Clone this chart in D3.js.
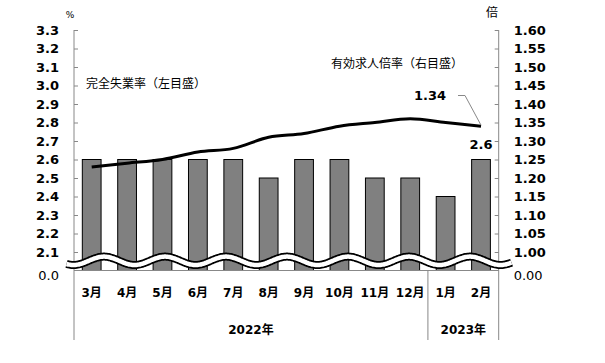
<!DOCTYPE html>
<html>
<head>
<meta charset="utf-8">
<script src="https://cdn.jsdelivr.net/npm/d3@7"></script>
<style>
	body { margin: 0; background: #fff; }
	text { font-family: "DejaVu Sans", "Noto Sans CJK JP", sans-serif; }
</style>
</head>
<body>
<svg id="chart" width="605" height="363"></svg>
<script>
var months = ['3月', '4月', '5月', '6月', '7月', '8月', '9月', '10月', '11月', '12月', '1月', '2月']
var years = [{label: '2022年', from: 0, to: 10}, {label: '2023年', from: 10, to: 12}]
var unemployment = [2.6, 2.6, 2.6, 2.6, 2.6, 2.5, 2.6, 2.6, 2.5, 2.5, 2.4, 2.6]
var jobRatio = [1.23, 1.24, 1.25, 1.27, 1.28, 1.31, 1.32, 1.34, 1.35, 1.36, 1.35, 1.34]
var leftTicks = [2.1, 2.2, 2.3, 2.4, 2.5, 2.6, 2.7, 2.8, 2.9, 3.0, 3.1, 3.2, 3.3]
var rightTicks = [1.00, 1.05, 1.10, 1.15, 1.20, 1.25, 1.30, 1.35, 1.40, 1.45, 1.50, 1.55, 1.60]

var svg = d3.select('#chart')
var x0 = 74, x1 = 498.7, yTop = 30, yBot = 270.5, yFoot = 340
var gray = '#888'

var x = d3.scaleBand().domain(d3.range(months.length)).range([x0, x1])
	.paddingInner(0.47).paddingOuter(0.235)
var yL = d3.scaleLinear().domain([2.0, 3.3]).range([yBot, yTop])
var yR = d3.scaleLinear().domain([0.95, 1.60]).range([yBot, yTop])
var step = x.step()
var cx = function(i) { return x(i) + x.bandwidth() / 2 }

// bars
svg.selectAll('.bar')
	.data(unemployment)
	.enter()
	.append('rect')
	.attr('class', 'bar')
	.attr('x', function(d, i) { return x(i) })
	.attr('y', function(d) { return yL(d) })
	.attr('width', x.bandwidth())
	.attr('height', function(d) { return yBot - yL(d) })
	.attr('fill', '#808080')
	.attr('stroke', '#000')
	.attr('stroke-width', 1)

// axes
var axL = svg.append('g').attr('transform', 'translate(' + x0 + ',0)')
	.call(d3.axisLeft(yL).tickValues(leftTicks).tickFormat(d3.format('.1f'))
		.tickSizeInner(-4).tickSizeOuter(0).tickPadding(15))
var axR = svg.append('g').attr('transform', 'translate(' + x1 + ',0)')
	.call(d3.axisRight(yR).tickValues(rightTicks).tickFormat(d3.format('.2f'))
		.tickSizeInner(-4).tickSizeOuter(0).tickPadding(15))
;[axL, axR].forEach(function(ax) {
	ax.select('.domain').remove()
	ax.selectAll('line').attr('stroke', gray)
	ax.selectAll('text').attr('font-size', 13).attr('font-weight', 'bold').attr('fill', '#000')
})

// frame lines
svg.append('line').attr('x1', x0).attr('x2', x0).attr('y1', yTop).attr('y2', yFoot).attr('stroke', gray)
svg.append('line').attr('x1', x1).attr('x2', x1).attr('y1', yTop).attr('y2', yFoot).attr('stroke', gray)
svg.append('line').attr('x1', x0).attr('x2', x1).attr('y1', yBot).attr('y2', yBot).attr('stroke', gray)
svg.append('line').attr('x1', x0 + step * 10).attr('x2', x0 + step * 10)
	.attr('y1', yBot).attr('y2', yFoot).attr('stroke', gray)

// axis break wave
var wave = d3.range(66.5, 512, 1).map(function(px) {
	return [px, 260.8 - 4.2 * Math.cos(2 * Math.PI * (px - 104) / 61)]
})
var waveLine = d3.line().curve(d3.curveBasis)
svg.append('path').attr('d', waveLine(wave)).attr('fill', 'none').attr('stroke', '#000').attr('stroke-width', 8)
svg.append('path').attr('d', waveLine(wave)).attr('fill', 'none').attr('stroke', '#fff').attr('stroke-width', 4.5)

// zero labels
svg.append('text').attr('x', 59).attr('y', 275).attr('dy', '0.35em').attr('text-anchor', 'end')
	.attr('font-size', 13).text('0.0')
svg.append('text').attr('x', 513.7).attr('y', 275).attr('dy', '0.35em')
	.attr('font-size', 13).text('0.00')

// ratio line
var line = d3.line()
	.x(function(d, i) { return cx(i) })
	.y(function(d) { return yR(d) })
	.curve(d3.curveCatmullRom.alpha(0.5))
svg.append('path').datum(jobRatio).attr('d', line)
	.attr('fill', 'none').attr('stroke', '#000').attr('stroke-width', 3).attr('stroke-linejoin', 'round')

// month / year labels
svg.selectAll('.month')
	.data(months)
	.enter()
	.append('text')
	.attr('class', 'month')
	.attr('x', function(d, i) { return cx(i) })
	.attr('y', 293)
	.attr('dy', '0.35em')
	.attr('text-anchor', 'middle')
	.attr('font-size', 12)
	.attr('font-weight', 'bold')
	.text(function(d) { return d })
svg.selectAll('.year')
	.data(years)
	.enter()
	.append('text')
	.attr('class', 'year')
	.attr('x', function(d) { return x0 + step * (d.from + d.to) / 2 })
	.attr('y', 329.5)
	.attr('dy', '0.35em')
	.attr('text-anchor', 'middle')
	.attr('font-size', 12)
	.attr('font-weight', 'bold')
	.text(function(d) { return d.label })

// units & series labels
svg.append('text').attr('x', 70).attr('y', 15).attr('dy', '0.35em').attr('text-anchor', 'middle')
	.attr('font-size', 9).text('%')
svg.append('text').attr('x', 492).attr('y', 13).attr('dy', '0.35em').attr('text-anchor', 'middle')
	.attr('font-size', 12).text('倍')
svg.append('text').attr('x', 86).attr('y', 84).attr('dy', '0.35em')
	.attr('font-size', 12).text('完全失業率（左目盛）')
svg.append('text').attr('x', 463).attr('y', 64).attr('dy', '0.35em').attr('text-anchor', 'end')
	.attr('font-size', 12).text('有効求人倍率（右目盛）')

// data labels
var last = months.length - 1
svg.append('text').attr('x', 430).attr('y', 95.5).attr('dy', '0.35em').attr('text-anchor', 'middle')
	.attr('font-size', 13).attr('font-weight', 'bold').text(d3.format('.2f')(jobRatio[last]))
svg.append('polyline')
	.attr('points', [[458, 95.5], [465, 95.5], [cx(last), yR(jobRatio[last]) - 1]].join(' '))
	.attr('fill', 'none').attr('stroke', gray).attr('stroke-width', 1)
svg.append('text').attr('x', cx(last)).attr('y', 144).attr('dy', '0.35em').attr('text-anchor', 'middle')
	.attr('font-size', 13).attr('font-weight', 'bold').text(d3.format('.1f')(unemployment[last]))
</script>
</body>
</html>
